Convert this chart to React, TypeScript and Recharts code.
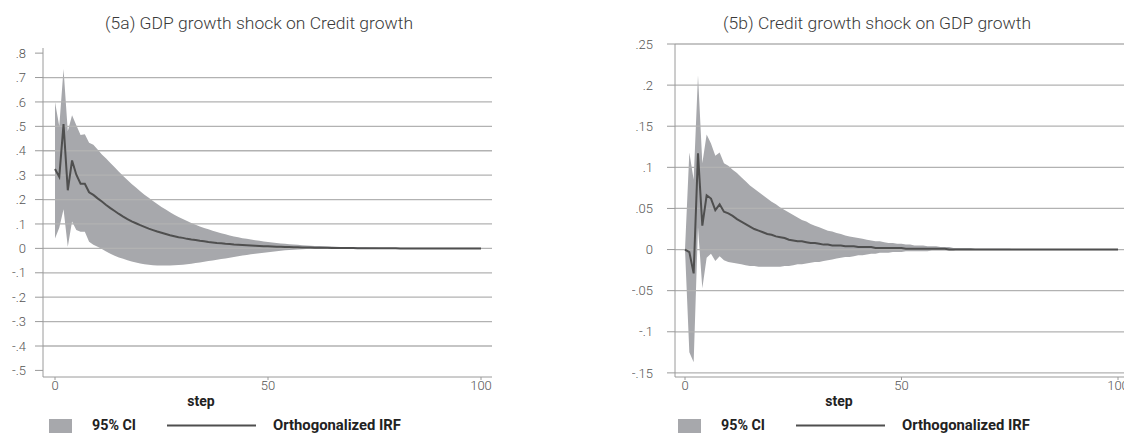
import { Area, ComposedChart, Line, ReferenceLine, XAxis, YAxis } from "recharts";

// horizon (x categories)
const steps = Array.from({ length: 101 }, (_, i) => i);

// (5a) GDP growth shock on Credit growth
const gdpShockIrf = [
  0.325, 0.293, 0.509, 0.238, 0.36, 0.302, 0.265, 0.265, 0.23, 0.219,
  0.205, 0.192, 0.178, 0.165, 0.153, 0.141, 0.13, 0.12, 0.111, 0.103,
  0.095, 0.088, 0.081, 0.075, 0.069, 0.064, 0.059, 0.054, 0.05, 0.046,
  0.043, 0.039, 0.036, 0.034, 0.031, 0.029, 0.026, 0.024, 0.022, 0.021,
  0.019, 0.018, 0.016, 0.015, 0.014, 0.013, 0.012, 0.011, 0.01, 0.009,
  0.009, 0.008, 0.007, 0.007, 0.006, 0.006, 0.005, 0.005, 0.004, 0.004,
  0.004, 0.003, 0.003, 0.003, 0.003, 0.002, 0.002, 0.002, 0.002, 0.002,
  0.002, 0.001, 0.001, 0.001, 0.001, 0.001, 0.001, 0.001, 0.001, 0.001,
  0.001, 0, 0, 0, 0, 0, 0, 0, 0, 0,
  0, 0, 0, 0, 0, 0, 0, 0, 0, 0,
  0,
];
const gdpShockHi = [
  0.6, 0.5, 0.735, 0.48, 0.545, 0.505, 0.465, 0.468, 0.433, 0.425,
  0.405, 0.385, 0.368, 0.35, 0.332, 0.314, 0.297, 0.28, 0.264, 0.249,
  0.234, 0.22, 0.207, 0.194, 0.182, 0.17, 0.159, 0.148, 0.138, 0.129,
  0.12, 0.112, 0.104, 0.097, 0.09, 0.084, 0.078, 0.072, 0.067, 0.062,
  0.058, 0.053, 0.049, 0.046, 0.042, 0.039, 0.036, 0.033, 0.031, 0.028,
  0.026, 0.024, 0.022, 0.02, 0.019, 0.017, 0.016, 0.015, 0.013, 0.012,
  0.011, 0.01, 0.01, 0.009, 0.008, 0.008, 0.007, 0.006, 0.006, 0.005,
  0.005, 0.004, 0.004, 0.004, 0.003, 0.003, 0.002, 0.002, 0.002, 0.002,
  0.002, 0.001, 0.001, 0.001, 0.001, 0.001, 0.001, 0.001, 0.001, 0.001,
  0.001, 0, 0, 0, 0, 0, 0, 0, 0, 0,
  0,
];
const gdpShockLo = [
  0.04, 0.085, 0.16, 0.007, 0.11, 0.075, 0.068, 0.068, 0.027, 0.015,
  0.007, -0.003, -0.013, -0.022, -0.03, -0.037, -0.043, -0.049, -0.054, -0.058,
  -0.062, -0.065, -0.067, -0.069, -0.07, -0.07, -0.07, -0.07, -0.069, -0.068,
  -0.067, -0.065, -0.063, -0.06, -0.058, -0.055, -0.052, -0.05, -0.047, -0.044,
  -0.041, -0.038, -0.035, -0.032, -0.029, -0.027, -0.024, -0.022, -0.02, -0.018,
  -0.016, -0.014, -0.012, -0.01, -0.008, -0.007, -0.006, -0.005, -0.004, -0.003,
  -0.003, -0.002, -0.002, -0.001, -0.001, -0.001, -0.001, -0.001, -0.001, -0.001,
  -0.001, -0.001, -0.001, -0.001, -0.001, 0, 0, 0, 0, 0,
  0, 0, 0, 0, 0, 0, 0, 0, 0, 0,
  0, 0, 0, 0, 0, 0, 0, 0, 0, 0,
  0,
];

// (5b) Credit growth shock on GDP growth
const creditShockIrf = [
  0, -0.003, -0.029, 0.117, 0.029, 0.066, 0.062, 0.048, 0.055, 0.046,
  0.044, 0.041, 0.037, 0.034, 0.031, 0.028, 0.025, 0.023, 0.021, 0.019,
  0.018, 0.016, 0.015, 0.014, 0.012, 0.011, 0.01, 0.01, 0.009, 0.008,
  0.008, 0.007, 0.006, 0.006, 0.005, 0.005, 0.005, 0.004, 0.004, 0.004,
  0.003, 0.003, 0.003, 0.003, 0.002, 0.002, 0.002, 0.002, 0.002, 0.002,
  0.002, 0.001, 0.001, 0.001, 0.001, 0.001, 0.001, 0.001, 0.001, 0.001,
  0.001, 0, 0, 0, 0, 0, 0, 0, 0, 0,
  0, 0, 0, 0, 0, 0, 0, 0, 0, 0,
  0, 0, 0, 0, 0, 0, 0, 0, 0, 0,
  0, 0, 0, 0, 0, 0, 0, 0, 0, 0,
  0,
];
const creditShockHi = [
  0, 0.118, 0.085, 0.212, 0.105, 0.14, 0.129, 0.114, 0.118, 0.105,
  0.102, 0.097, 0.093, 0.088, 0.083, 0.078, 0.074, 0.07, 0.066, 0.062,
  0.058, 0.055, 0.051, 0.048, 0.045, 0.042, 0.039, 0.036, 0.034, 0.031,
  0.029, 0.027, 0.025, 0.023, 0.022, 0.02, 0.019, 0.017, 0.016, 0.015,
  0.014, 0.013, 0.012, 0.011, 0.01, 0.01, 0.009, 0.008, 0.008, 0.007,
  0.007, 0.006, 0.006, 0.005, 0.005, 0.005, 0.004, 0.004, 0.004, 0.003,
  0.003, 0.003, 0.002, 0.002, 0.002, 0.002, 0.002, 0.001, 0.001, 0.001,
  0.001, 0.001, 0.001, 0.001, 0.001, 0.001, 0, 0, 0, 0,
  0, 0, 0, 0, 0, 0, 0, 0, 0, 0,
  0, 0, 0, 0, 0, 0, 0, 0, 0, 0,
  0,
];
const creditShockLo = [
  0, -0.125, -0.137, 0.027, -0.047, -0.01, -0.005, -0.014, -0.008, -0.013,
  -0.015, -0.016, -0.017, -0.018, -0.019, -0.02, -0.02, -0.021, -0.021, -0.021,
  -0.021, -0.021, -0.021, -0.02, -0.02, -0.019, -0.018, -0.018, -0.017, -0.016,
  -0.015, -0.015, -0.014, -0.013, -0.012, -0.011, -0.01, -0.009, -0.009, -0.008,
  -0.007, -0.007, -0.006, -0.005, -0.005, -0.004, -0.004, -0.004, -0.003, -0.003,
  -0.003, -0.002, -0.002, -0.002, -0.002, -0.002, -0.002, -0.001, -0.001, -0.001,
  -0.001, -0.001, -0.001, 0, 0, 0, 0, 0, 0, 0,
  0, 0, 0, 0, 0, 0, 0, 0, 0, 0,
  0, 0, 0, 0, 0, 0, 0, 0, 0, 0,
  0, 0, 0, 0, 0, 0, 0, 0, 0, 0,
  0,
];

const gdpTicks = [-0.5, -0.4, -0.3, -0.2, -0.1, 0, 0.1, 0.2, 0.3, 0.4, 0.5, 0.6, 0.7, 0.8];
const gdpGrid = [-0.4, -0.3, -0.2, -0.1, 0, 0.1, 0.2, 0.3, 0.4, 0.5, 0.6, 0.7];
const creditTicks = [-0.15, -0.1, -0.05, 0, 0.05, 0.1, 0.15, 0.2, 0.25];
const stepTicks = [0, 50, 100];

const BAND = "#a7a8ac";
const LINE = "#4f4f4f";
const AXIS = "#9a9a9a";
const GRID = "#b2b2b2";
const FONT = "Roboto, 'Open Sans', sans-serif";

// Stata-style labels: ".8", "-.05", "0"
const fmt = (v: number) => {
  if (Math.abs(v) < 1e-9) return "0";
  return String(+v.toFixed(2)).replace(/^(-?)0\./, "$1.");
};

function Panel({
  irf,
  lo,
  hi,
  left,
  width,
  top,
  xDomain,
  yDomain,
  yTicks,
  grid,
  tickMargin,
}: {
  irf: number[];
  lo: number[];
  hi: number[];
  left: number;
  width: number;
  top: number;
  xDomain: [number, number];
  yDomain: [number, number];
  yTicks: number[];
  grid: number[];
  tickMargin: number;
}) {
  const data = steps.map((s, i) => ({ step: s, irf: irf[i], band: [lo[i], hi[i]] }));
  return (
    <div style={{ position: "absolute", left, top: 0 }}>
      <ComposedChart width={width} height={433} data={data} margin={{ top, right: 8, bottom: 0, left: 0 }}>
        <XAxis
          type="number"
          dataKey="step"
          domain={xDomain}
          ticks={stepTicks}
          allowDataOverflow
          height={433 - 377}
          tickSize={3}
          tickMargin={1}
          axisLine={{ stroke: AXIS }}
          tickLine={{ stroke: AXIS }}
          tick={{ fill: "#555", fontSize: 13, fontFamily: FONT, fontWeight: 300 }}
        />
        <YAxis
          type="number"
          domain={yDomain}
          ticks={yTicks}
          allowDataOverflow
          width={43}
          tickFormatter={fmt}
          tickSize={8}
          tickMargin={tickMargin}
          axisLine={{ stroke: AXIS }}
          tickLine={{ stroke: AXIS }}
          tick={{ fill: "#555", fontSize: 13, fontFamily: FONT, fontWeight: 300 }}
        />
        {grid.map((g) => (
          <ReferenceLine key={g} y={g} stroke={GRID} strokeWidth={1.3} />
        ))}
        <Area
          dataKey="band"
          type="linear"
          fill={BAND}
          fillOpacity={1}
          stroke="none"
          isAnimationActive={false}
        />
        <Line dataKey="irf" type="linear" stroke={LINE} strokeWidth={2} dot={false} isAnimationActive={false} />
      </ComposedChart>
    </div>
  );
}

function LegendRow({ x }: { x: number }) {
  return (
    <g fontFamily={FONT} fontWeight={700} fontSize={14} fill="#222">
      <rect x={x} y={419} width={23} height={14} fill={BAND} />
      <text x={x + 43} y={430} textLength={44} lengthAdjust="spacingAndGlyphs">
        95% CI
      </text>
      <line x1={x + 118} x2={x + 207} y1={425.5} y2={425.5} stroke={LINE} strokeWidth={2} />
      <text x={x + 224} y={430} textLength={128} lengthAdjust="spacingAndGlyphs">
        Orthogonalized IRF
      </text>
    </g>
  );
}

export default function App() {
  return (
    <div
      style={{
        position: "fixed",
        left: 0,
        top: 0,
        width: 1124,
        height: 433,
        overflow: "hidden",
        background: "#fff",
      }}
    >
      <Panel
        irf={gdpShockIrf}
        lo={gdpShockLo}
        hi={gdpShockHi}
        left={0}
        width={500}
        top={48}
        xDomain={[-2.82, 102.58]}
        yDomain={[-0.527, 0.821]}
        yTicks={gdpTicks}
        grid={gdpGrid}
        tickMargin={9}
      />
      <Panel
        irf={creditShockIrf}
        lo={creditShockLo}
        hi={creditShockHi}
        left={632}
        width={507}
        top={44}
        xDomain={[-2.31, 103.0]}
        yDomain={[-0.155, 0.25]}
        yTicks={creditTicks}
        grid={creditTicks}
        tickMargin={14}
      />
      <svg width={1124} height={433} style={{ position: "absolute", left: 0, top: 0, pointerEvents: "none" }}>
        <g fontFamily={FONT} fontWeight={300} fontSize={17} fill="#3a3a3a">
          <text x={105} y={29} textLength={308} lengthAdjust="spacingAndGlyphs">
            (5a) GDP growth shock on Credit growth
          </text>
          <text x={723} y={29} textLength={308} lengthAdjust="spacingAndGlyphs">
            (5b) Credit growth shock on GDP growth
          </text>
        </g>
        <g fontFamily={FONT} fontWeight={700} fontSize={14} fill="#222">
          <text x={201} y={406} textAnchor="middle">
            step
          </text>
          <text x={839} y={406} textAnchor="middle">
            step
          </text>
        </g>
        <LegendRow x={49} />
        <LegendRow x={678} />
      </svg>
    </div>
  );
}
